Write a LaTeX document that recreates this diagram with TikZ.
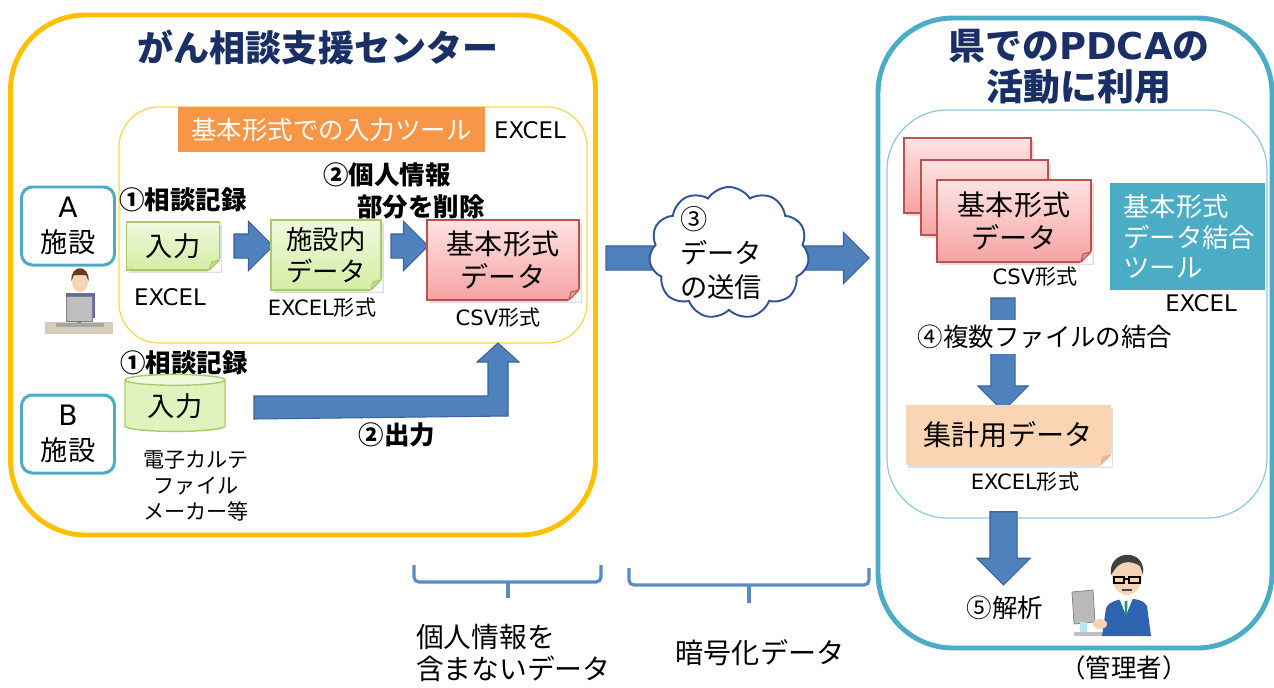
\documentclass[tikz,border=0pt]{standalone}
\usepackage{fontspec}
\setmainfont{Noto Sans CJK JP}
\newfontfamily\lat{DejaVu Sans}
\usetikzlibrary{shapes.geometric,shapes.symbols,shapes.arrows,shadows,calc}

\definecolor{frameYellow}{HTML}{FFC000}
\definecolor{toolYellow}{HTML}{FFD54F}
\definecolor{titleNavy}{HTML}{1A2F66}
\definecolor{bannerOrange}{HTML}{F79646}
\definecolor{siteBlue}{HTML}{4BACC6}
\definecolor{arrowBlue}{HTML}{4F81BD}
\definecolor{arrowEdge}{HTML}{3A6499}
\definecolor{greenTop}{HTML}{F0F9DE}
\definecolor{greenBot}{HTML}{D3EDA3}
\definecolor{greenEdge}{HTML}{A9C96A}
\definecolor{greenFold}{HTML}{BFDD8A}
\definecolor{pinkTop}{HTML}{FFE3E3}
\definecolor{pinkBot}{HTML}{F5A3A3}
\definecolor{pinkEdge}{HTML}{C0504D}
\definecolor{pinkFold}{HTML}{E89A9A}
\definecolor{peach}{HTML}{FBD4B4}
\definecolor{peachFold}{HTML}{E9B894}
\definecolor{innerBlue}{HTML}{8CCBDD}
\definecolor{braceBlue}{HTML}{5A8AC6}
\definecolor{cloudEdge}{HTML}{2F5597}
\definecolor{cylTop}{HTML}{F1FADF}
\definecolor{cylBody}{HTML}{E0F3BC}
\definecolor{skin}{HTML}{F6D3B3}
\definecolor{hairBrown}{HTML}{6B3A1E}
\definecolor{monGray}{HTML}{A8A8A8}
\definecolor{deskBeige}{HTML}{D8CDBA}
\definecolor{suitBlue}{HTML}{2F63B0}
\definecolor{tieGreen}{HTML}{1E9A6A}

\def\PX{0.02cm}

\tikzset{
  fs/.style 2 args={font=\fontsize{#1}{#2}\selectfont},
  fsb/.style 2 args={font=\fontsize{#1}{#2}\selectfont\bfseries},
  titletxt/.style={font=\fontsize{20.5}{23}\selectfont\bfseries, text=titleNavy, align=center},
  bigframe/.style={draw=#1, line width=2.8pt, rounded corners=1.5cm},
  facility/.style={draw=siteBlue, line width=1.7pt, rounded corners=0.22cm, fill=white,
    align=center, minimum width=93*\PX, minimum height=78*\PX, fs={15.5}{20}},
  softshadow/.style={drop shadow={shadow xshift=0.05cm, shadow yshift=-0.05cm, opacity=0.25}},
  greennote/.style={draw=greenEdge, line width=0.8pt, top color=greenTop, bottom color=greenBot,
    align=center, softshadow},
  pinknote/.style={draw=pinkEdge, line width=0.8pt, top color=pinkTop, bottom color=pinkBot,
    align=center, softshadow},
  blockarrow/.style={single arrow, fill=arrowBlue, draw=arrowEdge, line width=0.6pt,
    single arrow tip angle=90},
  smalltxt/.style={fs={13}{15}},
  brace/.style={draw=braceBlue, line width=1.8pt, rounded corners=0.1cm},
}

% cut the lower right corner of a note and draw the folded flap
\newcommand\foldcorner[3]{%
  \fill[white] ($(#1.south east)+(-11.5,1.5)$) -- ($(#1.south east)+(1.5,1.5)$) -- ($(#1.south east)+(1.5,-11.5)$) -- cycle;
  \filldraw[fill=#2, draw=#3, line width=0.6pt, line join=round]
    ($(#1.south east)+(-10,0)$) -- ($(#1.south east)+(0,-10)$) -- ($(#1.south east)+(-8,-8)$) -- cycle;
}

\begin{document}
\begin{tikzpicture}[x=0.02cm, y=-0.02cm, every node/.style={inner sep=0pt, outer sep=0pt}]
\useasboundingbox (0,0) rectangle (1274,687);

% ---------- consultation support centre ----------
\node[bigframe=frameYellow, minimum width=585*\PX, minimum height=520*\PX] (centre) at (303,275) {};
\node[titletxt] (title1) at (318,47) {がん相談支援センター};

\node[draw=toolYellow, line width=0.7pt, rounded corners=0.8cm,
      minimum width=468*\PX, minimum height=236*\PX] (tool) at (353,225) {};
\node[fill=bannerOrange, text=white, minimum width=307*\PX, minimum height=45*\PX, fs={14.5}{17}]
      (banner) at (331.5,129.5) {基本形式での入力ツール};
\node[smalltxt] (excel1) at (530,130) {\lat EXCEL};

% facility A
\node[facility] (siteA) at (68,226) {{\lat\fontsize{16}{20}\selectfont A}\\施設};
% operator at a desk
\fill[deskBeige] (45,322) rectangle (113,334);
\fill[skin] (80,282) ellipse (8 and 10);
\fill[hairBrown] (71.5,281) .. controls (70,264) and (90,264) .. (88.5,281) -- (86,275) -- (74,275) -- cycle;
\fill[black!45!blue!60] (66,293) rectangle (95,318);
\filldraw[fill=monGray!75, draw=gray] (66,296) rectangle (92,321);
\fill[gray] (77,321) rectangle (81,326);
\fill[gray!70] (56,323) rectangle (104,327);

\node[fsb={14.5}{17}] (rec1) at (183,200) {①相談記録};
\node[greennote, minimum width=93*\PX, minimum height=48*\PX, fs={15.5}{18}] (in1) at (173,246) {入力};
\foldcorner{in1}{greenFold}{greenEdge}
\node[smalltxt] (excelA) at (170,297) {\lat EXCEL};

\node[blockarrow, minimum height=39*\PX, minimum width=48*\PX, inner sep=11.5*\PX,
      single arrow head extend=12.5*\PX] (a1) at (247.5,246) {};

\node[greennote, minimum width=110*\PX, minimum height=70*\PX, fs={15}{18}] (in2) at (326,255) {施設内\\データ};
\foldcorner{in2}{greenFold}{greenEdge}
\node[fs={12}{14}] (excelform1) at (322,308) {{\lat EXCEL}形式};

\node[fsb={14.5}{17}] (del1) at (387,175) {②個人情報};
\node[fsb={14.5}{17}] (del2) at (421,207) {部分を削除};

\node[blockarrow, minimum height=37*\PX, minimum width=48*\PX, inner sep=11.5*\PX,
      single arrow head extend=12.5*\PX] (a2) at (403.5,246) {};

\node[pinknote, minimum width=152*\PX, minimum height=80*\PX, fs={16}{18.5}] (basic1) at (503,260) {基本形式\\データ};
\foldcorner{basic1}{pinkFold}{pinkEdge}
\node[fs={12}{14}] (csv1) at (498,318) {{\lat CSV}形式};

% facility B
\node[facility] (siteB) at (68,434) {{\lat\fontsize{16}{20}\selectfont B}\\施設};
\node[fsb={14.5}{17}] (rec2) at (184,363) {①相談記録};
\node[cylinder, shape border rotate=90, aspect=0.2, draw=greenEdge, line width=0.8pt,
      cylinder uses custom fill, cylinder body fill=cylBody, cylinder end fill=cylTop,
      minimum width=100*\PX, minimum height=57*\PX, fs={15.5}{18}] (cyl) at (175,406) {入力};
\node[fs={12}{14.7}, align=center] (maker) at (196,486) {電子カルテ\\ファイル\\メーカー等};

% output of the electronic record, bent up into the basic-format data
\filldraw[fill=arrowBlue, draw=arrowEdge, line width=0.6pt, line join=miter]
  ($(cyl.east)+(29,-10)$) coordinate (bendstart)
  -- (488,396) -- (488,362) -- (477,362) -- (498,343) -- (519,362) -- (508,362) -- (508,416)
  -- ($(cyl.east)+(29,13)$) -- cycle;
\node[fsb={14.5}{17}] (out2) at (397,435) {②出力};

% ---------- transfer ----------
\node[blockarrow, minimum height=263*\PX, minimum width=50*\PX, inner sep=11.5*\PX,
      single arrow head extend=13.5*\PX] (a3) at (731.5,258) {};
\node[cloud, cloud puffs=11, cloud puff arc=115, aspect=1.2, draw=cloudEdge, fill=white,
      line width=1.1pt, minimum width=160*\PX, minimum height=132*\PX] (cloud) at (729,253) {};
\node[fs={15.5}{19.5}, align=left, anchor=west] (sendtxt) at (680,253) {③\\データ\\の送信};

% ---------- prefecture ----------
\node[bigframe=siteBlue, minimum width=394*\PX, minimum height=630*\PX] (pref) at (1075,333) {};
\node[titletxt, font=\fontsize{21}{23.3}\selectfont\bfseries] (title2) at (1079,67) {県での{\lat PDCA}の\\活動に利用};
\node[draw=innerBlue, line width=0.7pt, rounded corners=1.2cm,
      minimum width=380*\PX, minimum height=408*\PX] (agg) at (1077,314) {};

\node[pinknote, minimum width=127*\PX, minimum height=75*\PX] (stack1) at (967.5,175.5) {};
\node[pinknote, minimum width=127*\PX, minimum height=75*\PX] (stack2) at (984.5,197.5) {};
\node[pinknote, minimum width=154*\PX, minimum height=82*\PX, fs={16}{18.5}] (stack3) at (1014,221) {基本形式\\データ};
\foldcorner{stack3}{pinkFold}{pinkEdge}
\node[fs={12}{14}] (csv2) at (1035,277) {{\lat CSV}形式};

\node[fill=siteBlue, text=white, minimum width=155*\PX, minimum height=107*\PX,
      text width=128*\PX, align=left, fs={15}{17.3}] (merge) at (1187.5,236.5) {基本形式\\データ結合\\ツール};
\node[smalltxt] (excel2) at (1201,303) {\lat EXCEL};

\node[blockarrow, shape border rotate=270, minimum height=113*\PX, minimum width=49*\PX,
      inner sep=11.5*\PX, single arrow head extend=13*\PX] (a4) at (1003,348.5) {};
\node[fill=white, inner ysep=3pt, inner xsep=1pt, fs={14.5}{17}] (step4) at (1045,337) {④複数ファイルの結合};

\node[fill=peach, minimum width=205*\PX, minimum height=60*\PX, fs={16}{18.5}, softshadow] (total) at (1008,435) {集計用データ};
\foldcorner{total}{peachFold}{peachFold}
\node[fs={12}{14}] (excelform2) at (1025,482) {{\lat EXCEL}形式};

\node[blockarrow, shape border rotate=270, minimum height=73*\PX, minimum width=52*\PX,
      inner sep=13*\PX, single arrow head extend=13*\PX] (a5) at (1003.5,541.5) {};
\node[fs={14.5}{17}] (step5) at (1005,608) {⑤解析};

% administrator at a computer
\filldraw[fill=monGray!80, draw=gray] (1072,592) -- (1093,590) -- (1095,622) -- (1074,624) -- cycle;
\fill[cyan!30] (1080,622) rectangle (1087,634);
\fill[gray!50] (1074,632) rectangle (1104,636);
\fill[suitBlue] (1102,636) -- (1106,608) .. controls (1110,597) and (1142,595) .. (1147,606) -- (1151,636) -- cycle;
\fill[white] (1119,598) -- (1133,598) -- (1126,615) -- cycle;
\fill[tieGreen] (1124.5,601) -- (1127.5,601) -- (1127,615) -- (1125,615) -- cycle;
\fill[skin] (1100,624) ellipse (7 and 5);
\fill[skin] (1127,576) ellipse (15 and 19);
\fill[black!75] (1111,575) .. controls (1107,549) and (1147,547) .. (1143,575)
  -- (1140,566) .. controls (1131,560) and (1121,561) .. (1115,569) -- cycle;
\draw[black, line width=0.9pt] (1114,577) rectangle (1124,583) (1129,577) rectangle (1140,583) (1124,579) -- (1129,579);
\draw[black!70, line width=0.6pt] (1122,590) -- (1132,590);
\node[fs={14.5}{16}] (admin) at (1124,668) {（管理者）};

% ---------- braces and notes below ----------
\draw[brace] (414,565) -- (414,582) -- (601,582) -- (601,565);
\draw[brace] (508,582) -- (508,598);
\draw[brace] (629,568) -- (629,585) -- (869,585) -- (869,568);
\draw[brace] (749,585) -- (749,603);
\node[fs={15.8}{18}, align=left, anchor=west] (noinfo) at (416,653) {個人情報を\\含まないデータ};
\node[fs={16}{19}] (enc) at (760,653) {暗号化データ};
\end{tikzpicture}
\end{document}
